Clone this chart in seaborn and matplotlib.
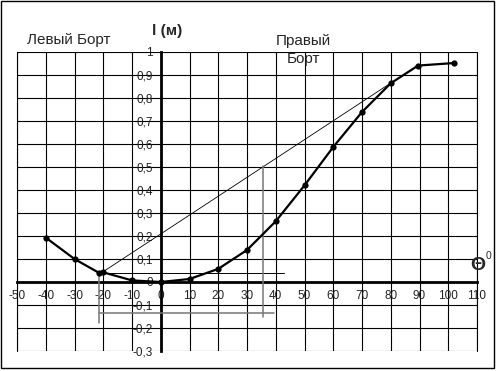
import numpy as np
import pandas as pd
import seaborn as sns
from matplotlib import pyplot as plt

# значения
theta = [-40, -30, -21.5, -20, -10, 0, 10, 20, 30, 40, 50, 60, 70, 80, 89.5, 102]
l_arm = [0.193, 0.10, 0.04, 0.042, 0.007, 0.0, 0.013, 0.057, 0.139, 0.264,
         0.42, 0.587, 0.739, 0.864, 0.941, 0.952]

x_ticks = list(range(-50, 111, 10))
y_ticks = [-0.3, -0.2, -0.1, 0, 0.1, 0.2, 0.3, 0.4, 0.5, 0.6, 0.7, 0.8, 0.9, 1.0]
y_labels = ['-0,3', '-0,2', '-0,1', '0', '0,1', '0,2', '0,3', '0,4', '0,5',
            '0,6', '0,7', '0,8', '0,9', '1']

# касательная и построения
tangent_x = [-20, 80]
tangent_y = [0.045, 0.865]

df = pd.DataFrame({'theta': theta, 'l': l_arm})

sns.set_style('white')
plt.rcParams['font.family'] = ['Liberation Sans', 'DejaVu Sans']

fig = plt.figure(figsize=(4.99, 3.71), dpi=100)
ax = fig.add_axes([17/499, 1-351/371, 460/499, 299/371])

sns.lineplot(data=df, x='theta', y='l', color='black', lw=1.6, marker='o',
             markersize=4.5, markeredgewidth=0, estimator=None, sort=False, ax=ax,
             zorder=5)

ax.plot(tangent_x, tangent_y, color='black', lw=0.6, zorder=4)
ax.plot([-22, 43], [0.04, 0.04], color='black', lw=0.7, zorder=4)
ax.plot([-21.5, -21.5], [0.04, -0.18], color='#777777', lw=1.1, zorder=4)
ax.plot([-21.5, 39.5], [-0.133, -0.133], color='#777777', lw=1.1, zorder=4)
ax.plot([35.6, 35.6], [0.505, -0.15], color='#777777', lw=1.1, zorder=4)

ax.set_xlim(-50, 110)
ax.set_ylim(-0.3, 1.0)
ax.set_xticks(x_ticks)
ax.set_xticklabels([str(v) for v in x_ticks])
ax.set_yticks(y_ticks)
ax.set_yticklabels(y_labels)
ax.grid(True, color='black', lw=0.8)
ax.set_axisbelow(True)

for s in ['top', 'right']:
    ax.spines[s].set_visible(False)
ax.spines['left'].set_position(('data', 0))
ax.spines['bottom'].set_position(('data', 0))
ax.spines['left'].set_linewidth(2)
ax.spines['bottom'].set_linewidth(2)
ax.spines['left'].set_color('black')
ax.spines['bottom'].set_color('black')
ax.spines['left'].set_zorder(3)
ax.spines['bottom'].set_zorder(3)
ax.tick_params(axis='both', direction='inout', length=4, width=1, colors='black',
               labelsize=8.5)
ax.tick_params(axis='x', pad=4, labelcolor='#222222')
ax.tick_params(axis='y', pad=3.5, labelcolor='#222222')
ax.set_xlabel('')
ax.set_ylabel('')

# рамка вокруг поля графика
ax.plot([-50, -50], [-0.3, 1.0], color='black', lw=0.8, clip_on=False)
ax.plot([110, 110], [-0.3, 1.0], color='black', lw=0.8, clip_on=False)

fig.text(27/499, 1-40/371, 'Левый Борт', fontsize=11, va='center', ha='left')
fig.text(167/499, 1-31/371, 'l (м)', fontsize=11, fontweight='bold', va='center', ha='center')
fig.text(303/499, 1-41/371, 'Правый', fontsize=11, va='center', ha='center')
fig.text(303/499, 1-52/371, 'Борт', fontsize=11, va='top', ha='center')
fig.text(478/499, 1-266/371, 'Θ', fontsize=14, fontweight='bold', va='center', ha='center')
fig.text(488/499, 1-256/371, '0', fontsize=7.5, va='center', ha='center')

fig.add_artist(plt.Rectangle((1/499, 3/371), 493/499, 367/371, fill=False,
                             lw=1, edgecolor='black', transform=fig.transFigure))

fig.savefig('out.png', dpi=100)
